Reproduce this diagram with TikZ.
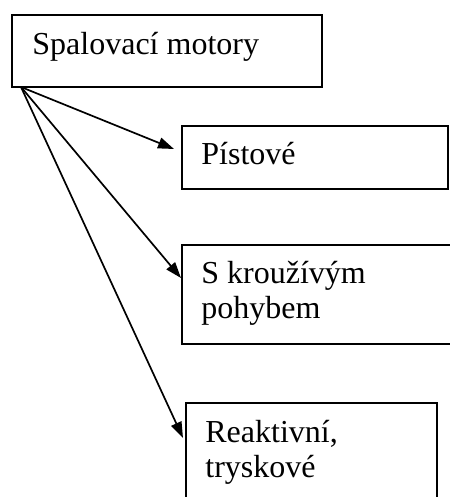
\documentclass[tikz,border=0pt]{standalone}
\usepackage{fontspec}
\setmainfont{Liberation Serif}
\usetikzlibrary{arrows.meta}
\begin{document}
\begin{tikzpicture}[x=0.5pt,y=-0.5pt,
  box/.style={draw,line width=1pt,anchor=north west,inner sep=0pt},
  lbl/.style={anchor=base west,inner sep=0pt,font=\fontsize{16pt}{17.5pt}\selectfont,align=left},
  arr/.style={line width=0.85pt,-{Triangle[length=8pt,width=5.5pt]}}]
\useasboundingbox (0,0) rectangle (449,497);
\node[box,minimum width=155pt,minimum height=36pt] (top) at (11,14) {};
\node[box,minimum width=133pt,minimum height=31.5pt] (pist) at (181,125) {};
\node[box,minimum width=140pt,minimum height=49.5pt] (krouz) at (181,244) {};
\node[box,minimum width=125.5pt,minimum height=65pt] (reak) at (185,402) {};
\node[lbl] (t0) at (32,55) {Spalovací motory};
\node[lbl] (t1) at (201,165) {Pístové};
\node[lbl] (t2) at (201,318) {S kroužívým\\pohybem};
\node[lbl] (t3) at (205,477) {Reaktivní,\\tryskové};
\coordinate (o) at (21,87);
\coordinate (e1) at (174,149);
\coordinate (e2) at (181,278);
\coordinate (e3) at (183,438);
\draw[arr] (o) -- (e1);
\draw[arr] (o) -- (e2);
\draw[arr] (o) -- (e3);
\end{tikzpicture}
\end{document}
